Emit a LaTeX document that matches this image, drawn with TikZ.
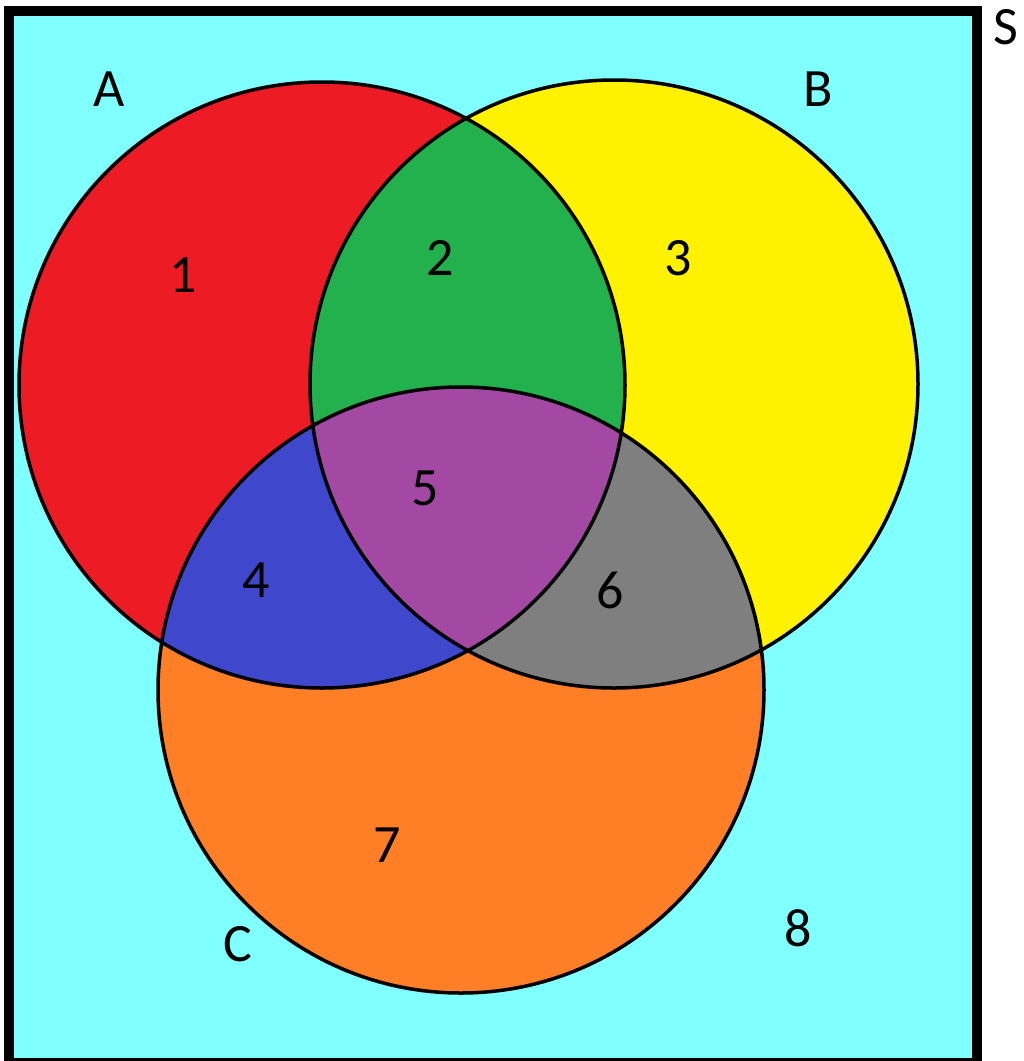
\documentclass[tikz,border=0pt]{standalone}
\usepackage{fontspec}
\setmainfont{Carlito}
\definecolor{bgc}{HTML}{80FFFF}
\definecolor{cred}{HTML}{ED1C24}
\definecolor{cyel}{HTML}{FFF200}
\definecolor{cgrn}{HTML}{22B14C}
\definecolor{cblu}{HTML}{3F48CC}
\definecolor{cpur}{HTML}{A349A4}
\definecolor{cgry}{HTML}{7F7F7F}
\definecolor{corg}{HTML}{FF7F27}
\begin{document}
\begin{tikzpicture}[x=1pt,y=-1pt,
  lbl/.style={font=\fontsize{54}{54}\selectfont, inner sep=0pt, text=black},
  ring/.style={draw=black, line width=3.5pt}]
\useasboundingbox (0,0) rectangle (1024,1061);
\def\A{(322,385) circle[radius=303]}
\def\B{(614,384) circle[radius=304]}
\def\C{(461,690) circle[radius=303]}
\fill[white] (0,0) rectangle (1024,1061);
\fill[bgc] (9,11) rectangle (977,1061);
\fill[cred] \A;
\fill[cyel] \B;
\fill[corg] \C;
\begin{scope}
  \clip \B;
  \fill[cgry] \C;
\end{scope}
\begin{scope}
  \clip \A;
  \fill[cgrn] \B;
  \fill[cblu] \C;
  \clip \B;
  \fill[cpur] \C;
\end{scope}
\draw[ring] \A \B \C;
\draw[line width=10pt] (9,11) rectangle (977,1063);
\node[lbl] (lA) at (109,89) {A};
\node[lbl] (lB) at (818,89) {B};
\node[lbl] (lC) at (238,944) {C};
\node[lbl] (lS) at (1006,27) {S};
\node[lbl] (n1) at (183,275) {1};
\node[lbl] (n2) at (440,258) {2};
\node[lbl] (n3) at (678,258) {3};
\node[lbl] (n4) at (256,580) {4};
\node[lbl] (n5) at (425,488) {5};
\node[lbl] (n6) at (610,590) {6};
\node[lbl] (n7) at (387,845) {7};
\node[lbl] (n8) at (798,928) {8};
\end{tikzpicture}
\end{document}
